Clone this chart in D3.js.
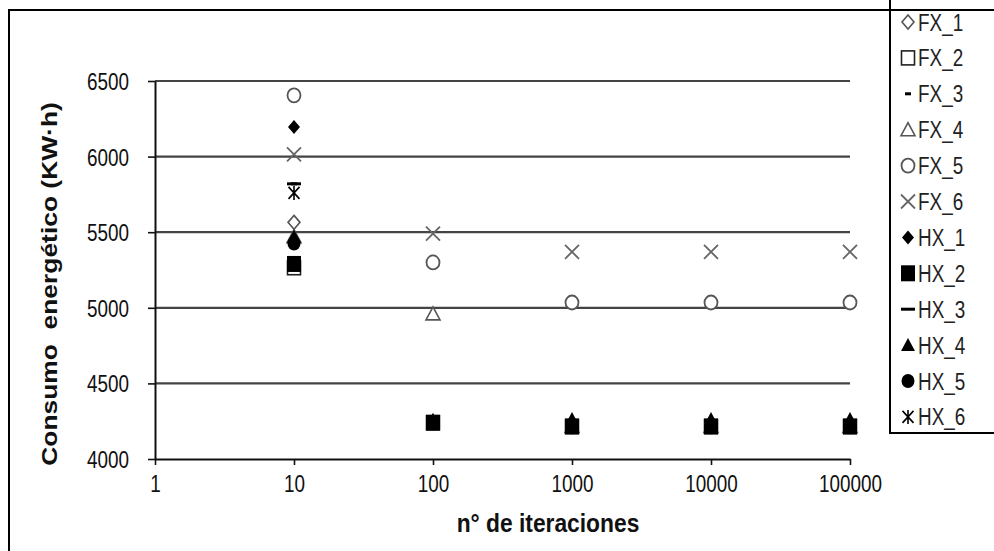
<!DOCTYPE html>
<html><head><meta charset="utf-8">
<script src="https://cdn.jsdelivr.net/npm/d3@7"></script>
<style>
html,body{margin:0;padding:0;background:#fff;}
svg{display:block;font-family:"Liberation Sans",Arial,sans-serif;}
</style></head>
<body><svg id="chart" width="994" height="551"></svg>
<script>
// ---- data ----
const xValues = [10, 100, 1000, 10000, 100000];
const xTickValues = [1, 10, 100, 1000, 10000, 100000];
const yTickValues = [4000, 4500, 5000, 5500, 6000, 6500];
const seriesNames = ["FX_1","FX_2","FX_3","FX_4","FX_5","FX_6","HX_1","HX_2","HX_3","HX_4","HX_5","HX_6"];
const FX_1 = [5565, 4240, 4215, 4215, 4215];
const FX_2 = [5265, 4240, 4215, 4215, 4215];
const FX_3 = [5820, 4240, 4215, 4215, 4215];
const FX_4 = [5470, 4960, 4215, 4215, 4215];
const FX_5 = [6405, 5300, 5035, 5035, 5035];
const FX_6 = [6015, 5490, 5370, 5370, 5370];
const HX_1 = [6195, 4240, 4215, 4215, 4215];
const HX_2 = [5290, 4240, 4215, 4215, 4215];
const HX_3 = [5820, 4240, 4215, 4215, 4215];
const HX_4 = [5470, 4260, 4265, 4265, 4265];
const HX_5 = [5425, 4240, 4215, 4215, 4215];
const HX_6 = [5760, 4240, 4215, 4215, 4215];
const seriesValues = [FX_1,FX_2,FX_3,FX_4,FX_5,FX_6,HX_1,HX_2,HX_3,HX_4,HX_5,HX_6];
const markerTypes = ["diamondOpen","squareOpen","dashShort","triangleOpen","circleOpen","cross",
                     "diamond","square","dashLong","triangle","circle","asterisk"];
const xTitle = "n° de iteraciones";
const yTitle = "Consumo  energético (KW·h)";

// ---- layout ----
const SX = 0.9, SY = 1.13; // condensed/tall glyph look of the reference
const svg = d3.select("#chart");
const x = d3.scaleLog().domain([1, 100000]).range([155, 850]);
const y = d3.scaleLinear().domain([4000, 6500]).range([459, 81]);

// outer frame
svg.append("path").attr("d","M9,551 L9,10 L994,10").attr("fill","none").attr("stroke","#000").attr("stroke-width",2);

// gridlines
svg.append("g").selectAll("line").data(yTickValues.filter(v=>v>4000)).join("line")
  .attr("x1", x(1)).attr("x2", x(100000))
  .attr("y1", d=>y(d)).attr("y2", d=>y(d))
  .attr("stroke","#444").attr("stroke-width",2.2);

// axes
const gx = svg.append("g").attr("transform",`translate(0,${y(4000)})`)
  .call(d3.axisBottom(x).tickValues(xTickValues).tickFormat(d3.format("d")).tickSizeInner(6).tickSizeOuter(0).tickPadding(10));
const gy = svg.append("g").attr("transform",`translate(${x(1)},0)`)
  .call(d3.axisLeft(y).tickValues(yTickValues).tickFormat(d3.format("d")).tickSizeInner(7).tickSizeOuter(0).tickPadding(19));
[gx,gy].forEach(g=>{
  g.select(".domain").attr("stroke","#111").attr("stroke-width",2);
  g.selectAll(".tick line").attr("stroke","#111").attr("stroke-width",1.6);
  g.selectAll(".tick text").attr("font-size",21).attr("fill","#111")
    .attr("font-family","Liberation Sans, Arial, sans-serif")
    .attr("transform",`scale(${SX},${SY})`);
});
gx.selectAll(".tick text").attr("y", 16/SY);
gy.selectAll(".tick text").attr("x", -26/SX).attr("dy","0.36em");

// titles
svg.append("text").attr("transform",`translate(548,532) scale(0.95,1.1)`).attr("text-anchor","middle")
  .attr("font-size",24).attr("font-weight","bold").attr("fill","#111").text(xTitle);
svg.append("text").attr("transform","translate(57,284) rotate(-90) scale(1.1,0.95)").attr("text-anchor","middle")
  .style("white-space","pre")
  .attr("font-size",24).attr("font-weight","bold").attr("fill","#111").text(yTitle);

// marker drawing
function drawMarker(g, type, cx, cy){
  const grey = "#555";
  switch(type){
    case "diamondOpen":
      g.append("path").attr("d",`M${cx},${cy-7}L${cx+6},${cy}L${cx},${cy+7}L${cx-6},${cy}Z`)
        .attr("fill","#fff").attr("stroke",grey).attr("stroke-width",1.6); break;
    case "diamond":
      g.append("path").attr("d",`M${cx},${cy-7}L${cx+6},${cy}L${cx},${cy+7}L${cx-6},${cy}Z`)
        .attr("fill","#000"); break;
    case "squareOpen":
      g.append("rect").attr("x",cx-6.5).attr("y",cy-7).attr("width",13).attr("height",14)
        .attr("fill","#fff").attr("stroke","#222").attr("stroke-width",1.6); break;
    case "square":
      g.append("rect").attr("x",cx-7).attr("y",cy-8).attr("width",14).attr("height",16).attr("fill","#000"); break;
    case "dashShort":
      g.append("rect").attr("x",cx-3).attr("y",cy-1.5).attr("width",6).attr("height",3).attr("fill","#000"); break;
    case "dashLong":
      g.append("rect").attr("x",cx-7).attr("y",cy-1.5).attr("width",14).attr("height",3).attr("fill","#000"); break;
    case "triangleOpen":
      g.append("path").attr("d",`M${cx},${cy-7}L${cx+7},${cy+6}L${cx-7},${cy+6}Z`)
        .attr("fill","#fff").attr("stroke",grey).attr("stroke-width",1.6); break;
    case "triangle":
      g.append("path").attr("d",`M${cx},${cy-7}L${cx+7},${cy+6}L${cx-7},${cy+6}Z`).attr("fill","#000"); break;
    case "circleOpen":
      g.append("ellipse").attr("cx",cx).attr("cy",cy).attr("rx",6.5).attr("ry",7)
        .attr("fill","#fff").attr("stroke",grey).attr("stroke-width",1.8); break;
    case "circle":
      g.append("ellipse").attr("cx",cx).attr("cy",cy).attr("rx",6.5).attr("ry",7).attr("fill","#000"); break;
    case "cross":
      g.append("path").attr("d",`M${cx-7},${cy-7}L${cx+7},${cy+7}M${cx+7},${cy-7}L${cx-7},${cy+7}`)
        .attr("stroke","#666").attr("stroke-width",1.8); break;
    case "asterisk":
      g.append("path").attr("d",`M${cx-5.5},${cy-6}L${cx+5.5},${cy+6}M${cx+5.5},${cy-6}L${cx-5.5},${cy+6}M${cx},${cy-7}L${cx},${cy+7}`)
        .attr("stroke","#000").attr("stroke-width",1.6); break;
  }
}

// points
const pts = svg.append("g");
seriesNames.forEach((name,i)=>{
  const g = pts.append("g").attr("class","series");
  seriesValues[i].forEach((v,j)=>{
    if (v == null) return;
    drawMarker(g, markerTypes[i], x(xValues[j]), y(v));
  });
});

// legend
const lg = svg.append("g");
lg.append("path").attr("d","M890,0 L890,433 L1000,433").attr("fill","none").attr("stroke","#000").attr("stroke-width",2);
seriesNames.forEach((name,i)=>{
  const cy = 22 + i*35.9;
  drawMarker(lg, markerTypes[i], 908, cy);
  lg.append("text").attr("transform",`translate(918,${cy}) scale(${SX},${SY})`)
    .attr("dy","0.36em").attr("font-size",21).attr("fill","#222").text(name);
});
</script></body></html>
